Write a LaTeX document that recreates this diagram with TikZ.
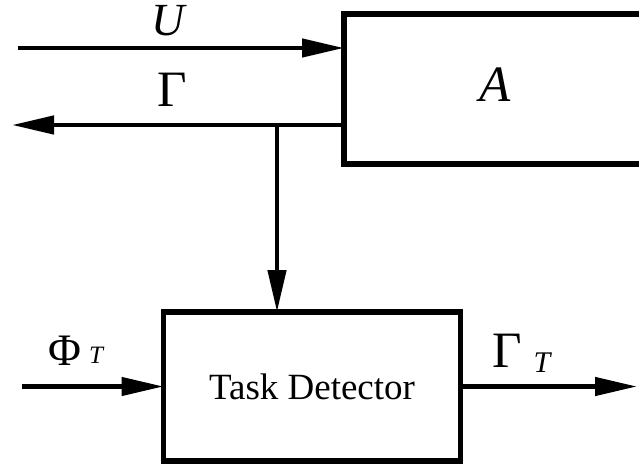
\documentclass[tikz,border=0pt]{standalone}
\usepackage{fontspec}
\setmainfont{Liberation Serif}
\usetikzlibrary{arrows.meta}

\begin{document}
\begin{tikzpicture}[
x=1pt, y=-1pt,
every node/.style={inner sep=0pt, outer sep=0pt},
block/.style={rectangle, draw, line width=5.5pt},
arrow/.style={-{Triangle[length=42pt, width=18pt]}, line width=4.5pt},
sym/.style={font=\fontsize{51}{56}\selectfont},
subsym/.style={font=\itshape\fontsize{25}{28}\selectfont}
]
\useasboundingbox (0,0) rectangle (639,470);
\clip (0,0) rectangle (639,470);

% plant and detector
\node[block, minimum width=302pt, minimum height=150pt] (plant) at (495,89) {};
\node[sym, anchor=base] (plantlbl) at (495,102) {\itshape A};
\node[block, minimum width=297pt, minimum height=149pt,
      font=\fontsize{37}{42}\selectfont] (det) at (312,386.5) {Task Detector};

% free ends
\coordinate (uin) at (18,48);
\coordinate (gout) at (12,125);
\coordinate (tap) at (277,125);
\coordinate (phin) at (22,386.5);
\coordinate (gtout) at (637,386.5);

\draw[arrow] (uin) -- (uin -| plant.west);
\draw[arrow] (gout -| plant.west) -- (gout);
\draw[arrow] (tap) -- (tap |- det.north);
\draw[arrow] (phin) -- (det.west);
\draw[arrow] (det.east) -- (gtout);

% signal labels
\node[sym, font=\fontsize{46}{50}\selectfont, text height=0.7em, anchor=base] (ulbl) at (168,36) {\itshape U};
\node[sym, anchor=base] (glbl) at (172,107) {Γ};
\node[font=\fontsize{45}{50}\selectfont, anchor=base] (phlbl) at (65,365) {Φ};
\node[subsym, anchor=base] (phsub) at (96,363) {T};
\node[sym, anchor=base] (gtlbl) at (507,367) {Γ};
\node[font=\itshape\fontsize{30}{34}\selectfont, anchor=base] (gtsub) at (542,372) {T};
\end{tikzpicture}
\end{document}
